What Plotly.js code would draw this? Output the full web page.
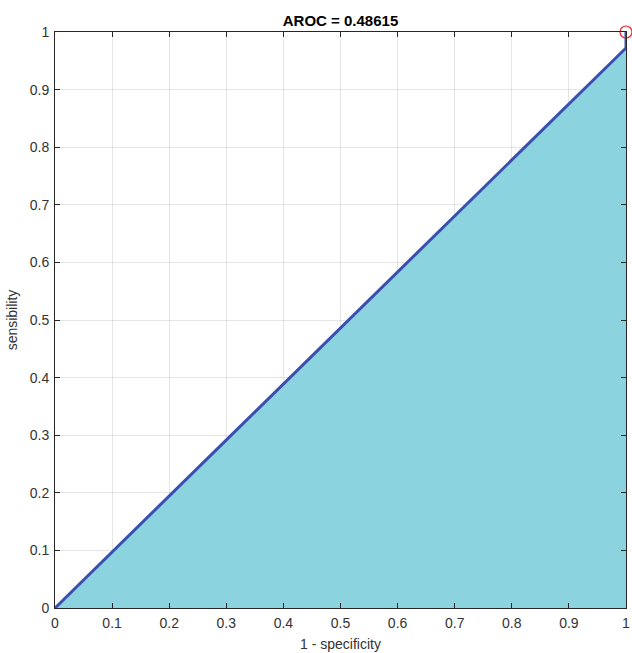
<!DOCTYPE html>
<html><head><meta charset="utf-8">
<script src="https://cdn.plot.ly/plotly-3.0.1.min.js"></script>
<style>html,body{margin:0;padding:0;background:#fff}#plot{width:632px;height:653px}</style>
</head><body><div id="plot"></div>
<script>
const fpr = [0, 1, 1];
const tpr = [0, 0.9723, 1];
const opX = [1];
const opY = [1];
const aroc = 0.48615;
const tickVals = [0,0.1,0.2,0.3,0.4,0.5,0.6,0.7,0.8,0.9,1];
const tickText = ['0','0.1','0.2','0.3','0.4','0.5','0.6','0.7','0.8','0.9','1'];

const font = {family: 'Liberation Sans, Arial, sans-serif', size: 14, color: '#333333'};
const axisCommon = {
  range: [0, 1], tickvals: tickVals, ticktext: tickText,
  showgrid: true, gridcolor: 'rgba(0,0,0,0.1)', gridwidth: 1,
  zeroline: false, showline: true, linecolor: '#262626', linewidth: 1, mirror: 'ticks',
  ticks: 'inside', ticklen: 5, tickcolor: '#262626', layer: 'above traces',
  tickfont: font, fixedrange: true, ticklabeloverflow: 'allow'
};
Plotly.newPlot('plot', [
  {x: fpr, y: tpr, type: 'scatter', mode: 'lines', fill: 'tozeroy',
   fillcolor: '#8BD3DF', line: {color: '#3A4FAF', width: 3}, hoverinfo: 'none'},
  {x: opX, y: opY, type: 'scatter', mode: 'markers', cliponaxis: false,
   marker: {symbol: 'circle-open', size: 12, color: '#E8262C', line: {width: 1.2}}, hoverinfo: 'none'}
], {
  width: 632, height: 653, showlegend: false,
  margin: {l: 55, r: 6, t: 32, b: 45},
  paper_bgcolor: '#fff', plot_bgcolor: '#fff',
  title: {text: '<b>AROC = ' + aroc + '</b>', font: {family: 'Liberation Sans, Arial, sans-serif', size: 15, color: '#000'},
          x: 0.5, xref: 'paper', y: 1, yref: 'paper', yanchor: 'bottom', pad: {b: 6}},
  xaxis: Object.assign({}, axisCommon, {ticklabelstandoff: 2, title: {text: '1 - specificity', font: font, standoff: 9}}),
  yaxis: Object.assign({}, axisCommon, {ticklabelstandoff: 2, title: {text: 'sensibility', font: font, standoff: 8}})
}, {staticPlot: true});
</script></body></html>
